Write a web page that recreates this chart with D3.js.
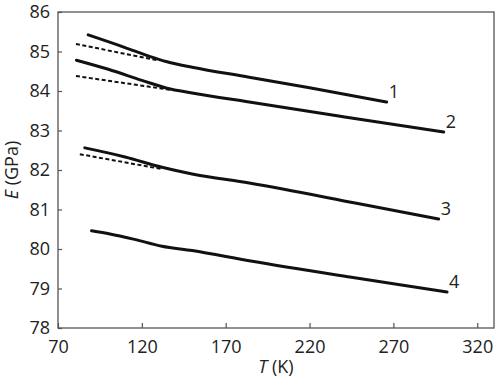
<!DOCTYPE html>
<html>
<head>
<meta charset="utf-8">
<script src="https://cdn.jsdelivr.net/npm/d3@7"></script>
<style>
  body { margin: 0; background: #fff; }
  svg text { font-family: "Open Sans", "Noto Sans", sans-serif; fill: #222; }
</style>
</head>
<body>
<div id="chart"></div>
<script>
// measured curves, T in K and E in GPa
var curveNames = ["1", "2", "3", "4"];
var curveT = [
  [88, 110, 125, 135, 150, 184, 220, 266],
  [81, 100, 120, 135, 150, 184, 240, 300],
  [86, 110, 132, 150, 184, 248, 297],
  [90, 101, 115, 132, 150, 184, 244, 270, 302]
];
var curveE = [
  [85.42, 85.10, 84.87, 84.74, 84.60, 84.35, 84.08, 83.72],
  [84.78, 84.55, 84.27, 84.07, 83.95, 83.72, 83.35, 82.96],
  [82.56, 82.33, 82.07, 81.90, 81.67, 81.16, 80.76],
  [80.46, 80.38, 80.25, 80.07, 79.96, 79.70, 79.29, 79.12, 78.91]
];
// dashed extrapolations of the high temperature part
var dashT = [[80.7, 129], [80.7, 137], [83, 132.5]];
var dashE = [[85.19, 84.78], [84.38, 84.03], [82.40, 82.02]];

var xTicks = [70, 120, 170, 220, 270, 320];
var yTicks = [78, 79, 80, 81, 82, 83, 84, 85, 86];

var svg_width = 500;
var svg_height = 380;
var m = {left: 58, right: 6, top: 12, bottom: 52};

var svg = d3.select("#chart").append("svg")
  .attr("width", svg_width)
  .attr("height", svg_height);

var x = d3.scaleLinear().domain([70, 330]).range([m.left, svg_width - m.right]);
var y = d3.scaleLinear().domain([78, 86]).range([svg_height - m.bottom, m.top]);

// x axis, ticks pointing inward
var gx = svg.append("g")
  .attr("transform", "translate(0," + y(78) + ")")
  .call(d3.axisBottom(x).tickValues(xTicks).tickSizeInner(-5).tickSizeOuter(0).tickPadding(12));
var gy = svg.append("g")
  .attr("transform", "translate(" + x(70) + ",0)")
  .call(d3.axisLeft(y).tickValues(yTicks).tickSizeInner(-4).tickSizeOuter(0).tickPadding(8));

[gx, gy].forEach(function(g){
  g.select(".domain").remove();
  g.selectAll("line").attr("stroke", "#555").attr("stroke-width", 1.2);
  g.selectAll("text")
    .style("font-size", "18px")
    .style("font-family", "'Open Sans', sans-serif")
    .attr("fill", "#222");
});
gx.selectAll("text").attr("dy", "0.71em");

// frame
svg.append("rect")
  .attr("x", x(70)).attr("y", y(86))
  .attr("width", x(330) - x(70)).attr("height", y(78) - y(86))
  .attr("fill", "none").attr("stroke", "#555").attr("stroke-width", 1.3);

var line = d3.line()
  .x(function(d){ return x(d[0]); })
  .y(function(d){ return y(d[1]); })
  .curve(d3.curveMonotoneX);

dashT.forEach(function(ts, i){
  var pts = ts.map(function(t, j){ return [t, dashE[i][j]]; });
  svg.append("path")
    .attr("d", line(pts))
    .attr("fill", "none")
    .attr("stroke", "#111")
    .attr("stroke-width", 2)
    .attr("stroke-dasharray", "4,2.5");
});

curveT.forEach(function(ts, i){
  var pts = ts.map(function(t, j){ return [t, curveE[i][j]]; });
  svg.append("path")
    .attr("d", line(pts))
    .attr("fill", "none")
    .attr("stroke", "#111")
    .attr("stroke-width", 3)
    .attr("stroke-linecap", "round");
  var last = pts[pts.length - 1];
  svg.append("text")
    .attr("x", x(last[0]) + 2)
    .attr("y", y(last[1]) - 4)
    .style("font-size", "18px")
    .text(curveNames[i]);
});

// axis titles
var xt = svg.append("text")
  .attr("x", (x(70) + x(330)) / 2)
  .attr("y", 373)
  .attr("text-anchor", "middle")
  .style("font-size", "18px");
xt.append("tspan").style("font-style", "italic").text("T");
xt.append("tspan").text(" (K)");

var yt = svg.append("text")
  .attr("transform", "translate(18," + (y(78) + y(86)) / 2 + ") rotate(-90)")
  .attr("text-anchor", "middle")
  .style("font-size", "18px");
yt.append("tspan").style("font-style", "italic").text("E");
yt.append("tspan").text(" (GPa)");
</script>
</body>
</html>
